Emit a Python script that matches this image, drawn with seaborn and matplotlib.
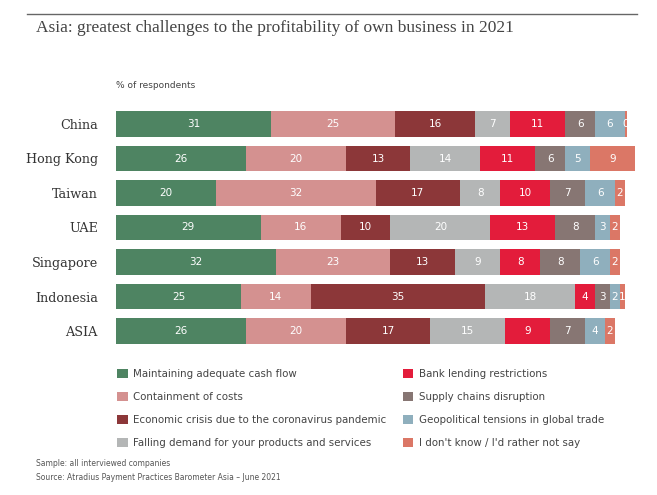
import numpy as np
import pandas as pd
import matplotlib
matplotlib.use("Agg")
import matplotlib.pyplot as plt
import seaborn as sns
from matplotlib.patches import Patch

countries = ["China", "Hong Kong", "Taiwan", "UAE", "Singapore", "Indonesia", "ASIA"]
categories = [
    "Maintaining adequate cash flow",
    "Containment of costs",
    "Economic crisis due to the coronavirus pandemic",
    "Falling demand for your products and services",
    "Bank lending restrictions",
    "Supply chains disruption",
    "Geopolitical tensions in global trade",
    "I don't know / I'd rather not say",
]
cash_flow = [31, 26, 20, 29, 32, 25, 26]
costs = [25, 20, 32, 16, 23, 14, 20]
crisis = [16, 13, 17, 10, 13, 35, 17]
demand = [7, 14, 8, 20, 9, 18, 15]
bank = [11, 11, 10, 13, 8, 4, 9]
supply = [6, 6, 7, 8, 8, 3, 7]
geopol = [6, 5, 6, 3, 6, 2, 4]
dont_know = [0.4, 9, 2, 2, 2, 1, 2]
colors = ["#4E8462", "#D49190", "#8C3739", "#B4B6B6", "#E31C3B", "#877673", "#8FAFBD", "#DB7766"]

series = [cash_flow, costs, crisis, demand, bank, supply, geopol, dont_know]
vals = np.array(series, dtype=float)
cum = np.cumsum(vals, axis=0)

fig = plt.figure(figsize=(6.57, 4.95), dpi=100)
ax = fig.add_axes([116 / 657, 1 - 348.25 / 495, 519 / 657, 241.5 / 495])

for i in range(len(series) - 1, -1, -1):
    df = pd.DataFrame({"country": countries, "value": cum[i]})
    sns.barplot(data=df, x="value", y="country", order=countries, color=colors[i],
                saturation=1, width=0.75, orient="h", ax=ax, errorbar=None)

for i in range(len(series)):
    for j in range(len(countries)):
        v = vals[i, j]
        center = cum[i, j] - v / 2
        ax.text(center, j, f"{v:.0f}", ha="center", va="center", color="white",
                fontsize=7.5, family="DejaVu Sans")

ax.set_xlim(0, 104)
ax.set_ylim(6.5, -0.5)
ax.set_xlabel("")
ax.set_ylabel("")
ax.set_xticks([])
for s in ax.spines.values():
    s.set_visible(False)
ax.tick_params(axis="y", length=0, pad=13)
for t in ax.get_yticklabels():
    t.set_family("DejaVu Serif")
    t.set_fontsize(9.2)
    t.set_color("#333333")

fig.add_artist(plt.Line2D([27 / 657, 637 / 657], [1 - 14 / 495] * 2, color="#666666", lw=1))
fig.text(36 / 657, 1 - 28 / 495, "Asia: greatest challenges to the profitability of own business in 2021",
         family="Liberation Serif", fontsize=12.5, color="#444444", va="center", ha="left")
fig.text(116 / 657, 1 - 85 / 495, "% of respondents", fontsize=6.5, color="#444444",
         va="center", ha="left")

handles = [Patch(facecolor=c, edgecolor="none") for c in colors]
leg = fig.legend(handles, categories, loc="upper left", bbox_to_anchor=(108 / 657, 1 - 360 / 495),
                 ncol=2, frameon=False, prop={"family": "DejaVu Sans", "size": 7.4},
                 handlelength=1.0, handleheight=1.0,
                 handletextpad=0.55, labelspacing=1.25, columnspacing=1.6, labelcolor="#444444")

fig.text(36 / 657, 1 - 464 / 495, "Sample: all interviewed companies", fontsize=5.5, color="#555555", va="center")
fig.text(36 / 657, 1 - 478 / 495, "Source: Atradius Payment Practices Barometer Asia \u2013 June 2021",
         fontsize=5.5, color="#555555", va="center")

fig.savefig("out.png", dpi=100)
